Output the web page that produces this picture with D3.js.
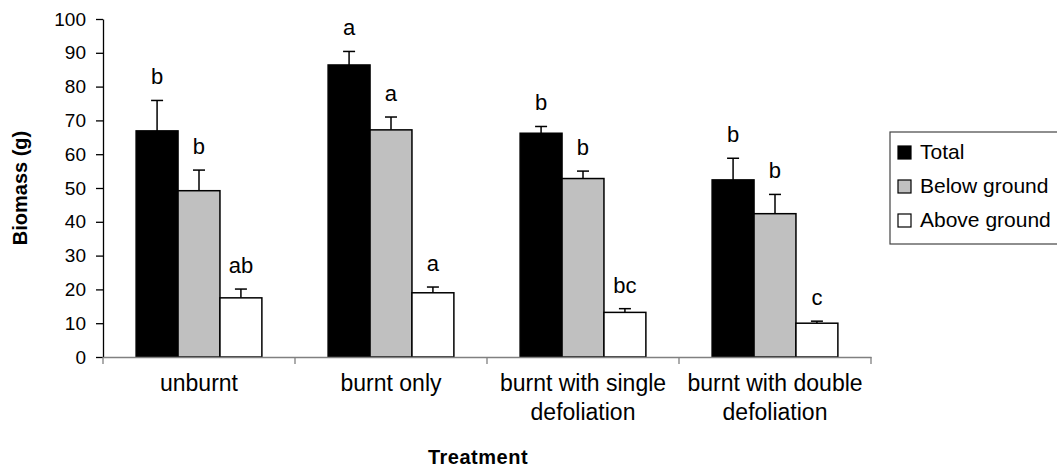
<!DOCTYPE html>
<html lang="en">
<head>
    <meta charset="utf-8">
    <script src="https://d3js.org/d3.v7.min.js"></script>
</head>
<style>
    body { margin: 0; background: #fff; }
    text { font-family: "Liberation Sans", Arial, sans-serif; fill: #000; }
</style>
<body>
<div id="chart"></div>
<script type="text/javascript">
  // data
  const treatments = ["unburnt", "burnt only", "burnt with single defoliation", "burnt with double defoliation"];
  const categoryLines = [["unburnt"], ["burnt only"], ["burnt with single", "defoliation"], ["burnt with double", "defoliation"]];
  const seriesNames = ["Total", "Below ground", "Above ground"];
  const totalMeans = [66.9, 86.4, 66.2, 52.4];
  const totalErrors = [9.0, 4.0, 2.0, 6.4];
  const belowMeans = [49.2, 67.2, 52.8, 42.4];
  const belowErrors = [6.1, 3.8, 2.2, 5.7];
  const aboveMeans = [17.5, 19.0, 13.2, 10.0];
  const aboveErrors = [2.6, 1.7, 1.1, 0.6];
  const totalLetters = ["b", "a", "b", "b"];
  const belowLetters = ["b", "a", "b", "b"];
  const aboveLetters = ["ab", "a", "bc", "c"];
  const yTicks = [0, 10, 20, 30, 40, 50, 60, 70, 80, 90, 100];

  const fills = {"Total": "#000000", "Below ground": "#c0c0c0", "Above ground": "#ffffff"};

  const svgWidth = 1057, svgHeight = 474;
  const margin = {top: 19, left: 103, right: 186, bottom: 117};
  const width = svgWidth - margin.left - margin.right;
  const height = svgHeight - margin.top - margin.bottom;

  const svg = d3.select("#chart")
    .append("svg")
    .attr("width", svgWidth)
    .attr("height", svgHeight);

  const g = svg.append("g").attr("transform", "translate(" + margin.left + "," + margin.top + ")");

  // build rows
  const means = [totalMeans, belowMeans, aboveMeans];
  const errs = [totalErrors, belowErrors, aboveErrors];
  const letters = [totalLetters, belowLetters, aboveLetters];
  const rows = [];
  treatments.forEach((t, i) => {
    seriesNames.forEach((s, j) => {
      rows.push({treatment: t, series: s, value: means[j][i], err: errs[j][i], letter: letters[j][i]});
    });
  });

  const x0 = d3.scaleBand().domain(treatments).range([0, width]).padding(0);
  const x1 = d3.scaleBand().domain(seriesNames).range([0, x0.bandwidth()])
    .paddingInner(0).paddingOuter(0.79);
  const y = d3.scaleLinear().domain([0, 100]).range([height, 0]);

  // y axis
  const yAxis = g.append("g")
    .call(d3.axisLeft(y).tickValues(yTicks).tickSize(7).tickSizeOuter(0).tickPadding(10));
  yAxis.select(".domain").attr("stroke", "#000").attr("stroke-width", 1.3);
  yAxis.selectAll(".tick line").attr("stroke", "#000").attr("stroke-width", 1.3);
  yAxis.selectAll("text").style("font-size", "19px").attr("fill", "#000");

  // bars
  const bars = g.append("g").selectAll("g").data(rows).enter().append("g")
    .attr("transform", d => "translate(" + (x0(d.treatment) + x1(d.series)) + ",0)");

  const bw = x1.bandwidth();

  bars.append("line")
    .attr("x1", bw / 2).attr("x2", bw / 2)
    .attr("y1", d => y(d.value)).attr("y2", d => y(d.value + d.err))
    .attr("stroke", "#000").attr("stroke-width", 1.5);
  bars.append("line")
    .attr("x1", bw / 2 - 6).attr("x2", bw / 2 + 6)
    .attr("y1", d => y(d.value + d.err)).attr("y2", d => y(d.value + d.err))
    .attr("stroke", "#000").attr("stroke-width", 1.5);

  bars.append("rect")
    .attr("x", 0)
    .attr("y", d => y(d.value))
    .attr("width", bw)
    .attr("height", d => height - y(d.value))
    .attr("fill", d => fills[d.series])
    .attr("stroke", "#000")
    .attr("stroke-width", 1.5);

  bars.append("text")
    .attr("x", bw / 2)
    .attr("y", d => y(d.value + d.err) - 16)
    .attr("text-anchor", "middle")
    .style("font-size", "22px")
    .text(d => d.letter);

  // x axis
  const xAxis = g.append("g")
    .attr("transform", "translate(0," + height + ")")
    .call(d3.axisBottom(x0).tickSize(0).tickFormat(""));
  xAxis.select(".domain").attr("stroke", "#808080").attr("stroke-width", 1.3);
  const bounds = treatments.map(t => x0(t)).concat([width]);
  xAxis.selectAll(".sep").data(bounds).enter().append("line")
    .attr("class", "sep")
    .attr("x1", d => d).attr("x2", d => d)
    .attr("y1", 0).attr("y2", 7)
    .attr("stroke", "#808080").attr("stroke-width", 1.3);

  // category labels
  const cats = g.append("g").selectAll("text").data(treatments).enter().append("text")
    .attr("x", d => x0(d) + x0.bandwidth() / 2)
    .attr("y", height + 34)
    .attr("text-anchor", "middle")
    .style("font-size", "23px");
  cats.each(function (d, i) {
    const t = d3.select(this);
    categoryLines[i].forEach((line, k) => {
      t.append("tspan")
        .attr("x", x0(d) + x0.bandwidth() / 2)
        .attr("dy", k === 0 ? 0 : 29)
        .text(line);
    });
  });

  // axis titles
  svg.append("text")
    .attr("x", 478)
    .attr("y", 464)
    .attr("text-anchor", "middle")
    .style("font-size", "20px")
    .style("font-weight", "bold")
    .style("letter-spacing", "0.5px")
    .text("Treatment");

  svg.append("text")
    .attr("transform", "translate(27," + (margin.top + height / 2) + ") rotate(-90)")
    .attr("text-anchor", "middle")
    .style("font-size", "20px")
    .style("font-weight", "bold")
    .text("Biomass (g)");

  // legend
  const legend = svg.append("g").attr("transform", "translate(890,132)");
  legend.append("rect")
    .attr("x", 0).attr("y", 0)
    .attr("width", 200).attr("height", 112)
    .attr("fill", "#fff").attr("stroke", "#444").attr("stroke-width", 1.2);
  const items = legend.selectAll(".item").data(seriesNames).enter().append("g")
    .attr("class", "item")
    .attr("transform", (d, i) => "translate(8," + (14 + i * 34) + ")");
  items.append("rect")
    .attr("width", 13).attr("height", 13)
    .attr("fill", d => fills[d])
    .attr("stroke", "#000").attr("stroke-width", 1.2);
  items.append("text")
    .attr("x", 22).attr("y", 13)
    .style("font-size", "21px")
    .text(d => d);
</script>
</body>
</html>
